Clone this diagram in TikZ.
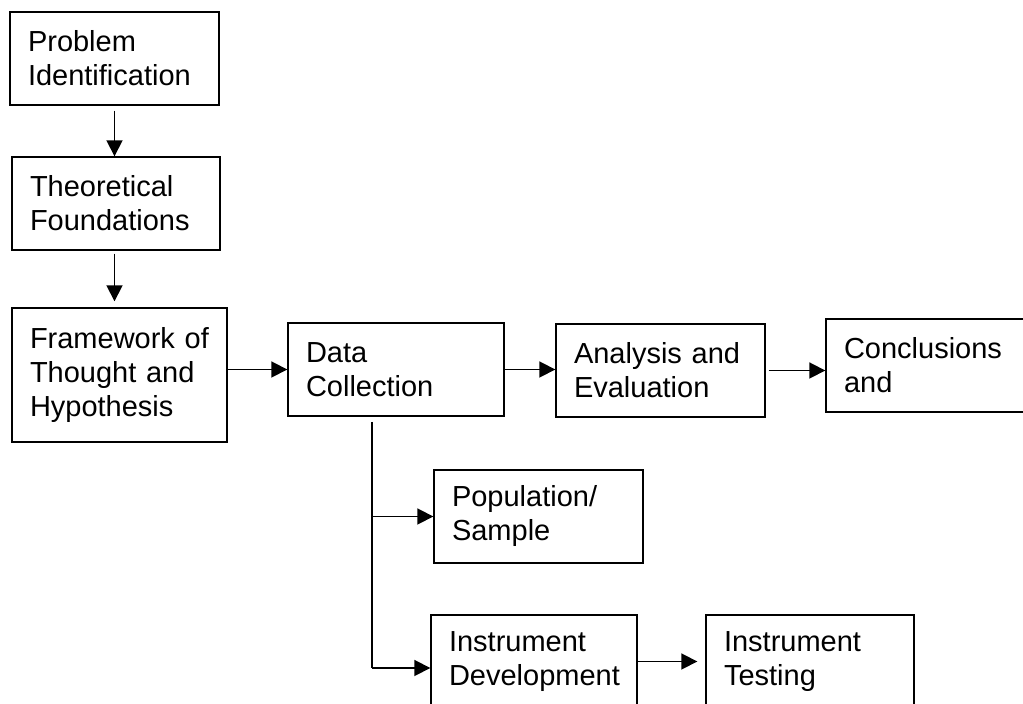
\documentclass[tikz,border=0pt]{standalone}
\usepackage{fontspec}
\setmainfont{Liberation Sans}
\usetikzlibrary{arrows.meta}

\tikzstyle{stage}=[draw, line width=0.7pt, inner xsep=9pt, inner ysep=0pt, minimum height=46.5pt, align=left, font=\fontsize{14.5}{17}\selectfont]
\tikzstyle{flow}=[line width=0.9pt, -{Triangle[length=8pt,width=8pt]}]
\tikzstyle{trunk}=[line width=0.9pt]

\begin{document}
\begin{tikzpicture}[x=0.5pt, y=-0.5pt]
      \clip (0,0) rectangle (1023,704);
      \node (prob) at (114.5,58.5)
            [stage, text width=86.5pt] {Problem\\Identification};
      \node (theo) at (116,203.5)
            [stage, text width=86pt] {Theoretical\\Foundations};
      \node (frame) at (119.5,375)
            [stage, text width=89.5pt, minimum height=67pt] {Framework of\\Thought and\\Hypothesis};
      \node (data) at (396,369.5)
            [stage, text width=90pt] {Data\\Collection};
      \node (anal) at (660.5,370.5)
            [stage, text width=86.5pt] {Analysis and\\Evaluation};
      \node (concl) at (930.5,365.5)
            [stage, text width=86.5pt] {Conclusions\\and};
      \node (pop) at (538.5,516.5)
            [stage, text width=86.5pt] {Population/\\Sample};
      \node (instdev) at (534,661.5)
            [stage, text width=85pt] {Instrument\\Development};
      \node (insttest) at (810,661.5)
            [stage, text width=86pt] {Instrument\\Testing};

      \coordinate (split) at (372,422);
      \coordinate (split end) at (372,668);

      \draw[flow, shorten <=2.5pt] (prob.south) -- (prob.south |- theo.north);
      \draw[flow, shorten <=1.5pt, shorten >=3pt] (prob.south |- theo.south) -- (prob.south |- frame.north);
      \draw[flow] (frame.east |- data.west) -- (data.west);
      \draw[flow] (data.east) -- (data.east -| anal.west);
      \draw[flow, shorten <=1.5pt] (anal.east) -- (anal.east -| concl.west);
      \draw[trunk] (split) -- (split end);
      \draw[flow] (split |- pop.west) -- (pop.west);
      \draw[flow] (split end) -- (split end -| instdev.west);
      \draw[flow, shorten >=4pt] (instdev.east) -- (insttest.west);
    \end{tikzpicture}
\end{document}
